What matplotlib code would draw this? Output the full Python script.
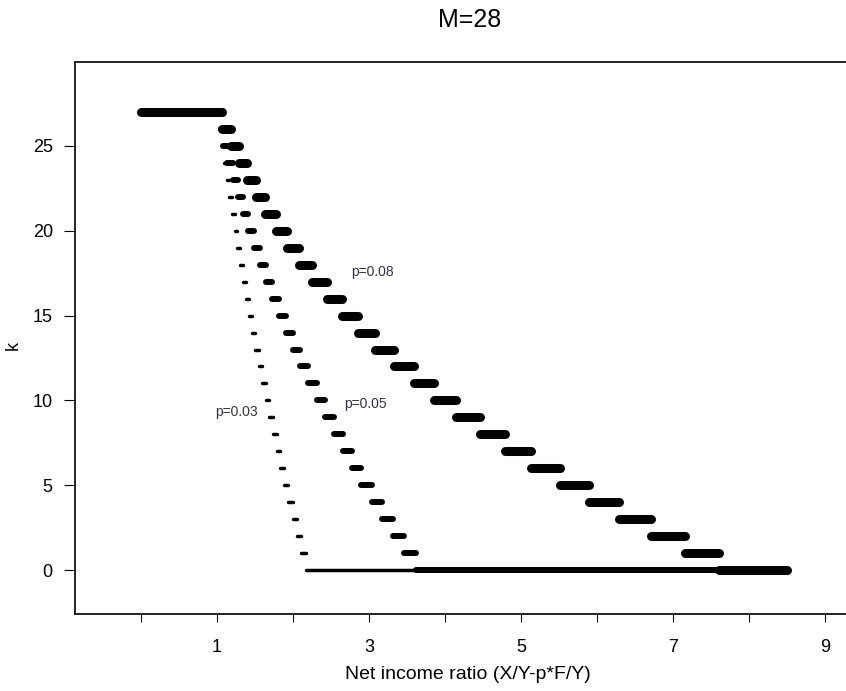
import matplotlib
matplotlib.use("Agg")
import matplotlib.pyplot as plt
import numpy as np

plt.rcParams['font.family'] = ['Liberation Sans', 'DejaVu Sans']

# k levels, top segment first (k=27 ... 0)
k_levels = list(range(27, -1, -1))

# segment edges along the net income ratio axis for each p
# edges[i] .. edges[i+1] is the range where k = k_levels[i]
edges_p03 = [0, 1.04, 1.067, 1.098, 1.13, 1.163, 1.197, 1.232, 1.268, 1.305,
             1.343, 1.382, 1.422, 1.463, 1.505, 1.548, 1.593, 1.639, 1.686,
             1.734, 1.784, 1.835, 1.887, 1.94, 1.995, 2.05, 2.11, 2.17, 8.5]
edges_p05 = [0, 1.05, 1.08, 1.135, 1.207, 1.277, 1.345, 1.414, 1.49, 1.569,
             1.642, 1.727, 1.819, 1.908, 1.997, 2.093, 2.198, 2.31, 2.425,
             2.535, 2.654, 2.777, 2.90, 3.036, 3.174, 3.316, 3.464, 3.62, 8.5]
edges_p08 = [0, 1.06, 1.18, 1.29, 1.395, 1.51, 1.63, 1.773, 1.925, 2.082,
             2.257, 2.444, 2.641, 2.855, 3.079, 3.326, 3.589, 3.859, 4.152,
             4.46, 4.789, 5.138, 5.51, 5.895, 6.293, 6.717, 7.155, 7.6, 8.5]

series = [("p=0.03", edges_p03, 2.5, (1.26, 9.3)),
          ("p=0.05", edges_p05, 4.3, (2.95, 9.8)),
          ("p=0.08", edges_p08, 6.5, (3.04, 17.6))]

fig = plt.figure(figsize=(8.46, 6.91), dpi=100)
ax = fig.add_axes([75/846, 1 - 614/691, (869-75)/846, (614-62)/691])

for label, edges, lw, pos in series:
    for i, k in enumerate(k_levels):
        ax.plot([edges[i], edges[i+1]], [k, k], color='black', lw=lw,
                solid_capstyle='round')
    ax.text(pos[0], pos[1], label, fontsize=10, color='#333344',
            ha='center', va='center')

ax.set_xlim(-0.868, 9.58)
ax.set_ylim(-2.59, 29.95)

ax.set_xticks(np.arange(0, 10))
ax.set_xticklabels([str(v) if v % 2 == 1 else '' for v in range(10)], fontsize=13)
ax.set_yticks([0, 5, 10, 15, 20, 25])
ax.tick_params(axis='y', labelsize=13, length=8, pad=8)
ax.tick_params(axis='x', length=6, pad=12)

ax.spines['right'].set_visible(False)
for s in ['left', 'bottom', 'top']:
    ax.spines[s].set_linewidth(1.2)

ax.set_xlabel("Net income ratio (X/Y-p*F/Y)", fontsize=14)
ax.xaxis.set_label_coords((468-75)/794, -(666-614)/552)
ax.set_ylabel("k", fontsize=13)
ax.yaxis.set_label_coords(-(75-22)/794, (614-345)/552)
fig.text(470/846, 1 - 20/691, "M=28", fontsize=18, ha='center', va='center')

fig.savefig("out.png", dpi=100)
